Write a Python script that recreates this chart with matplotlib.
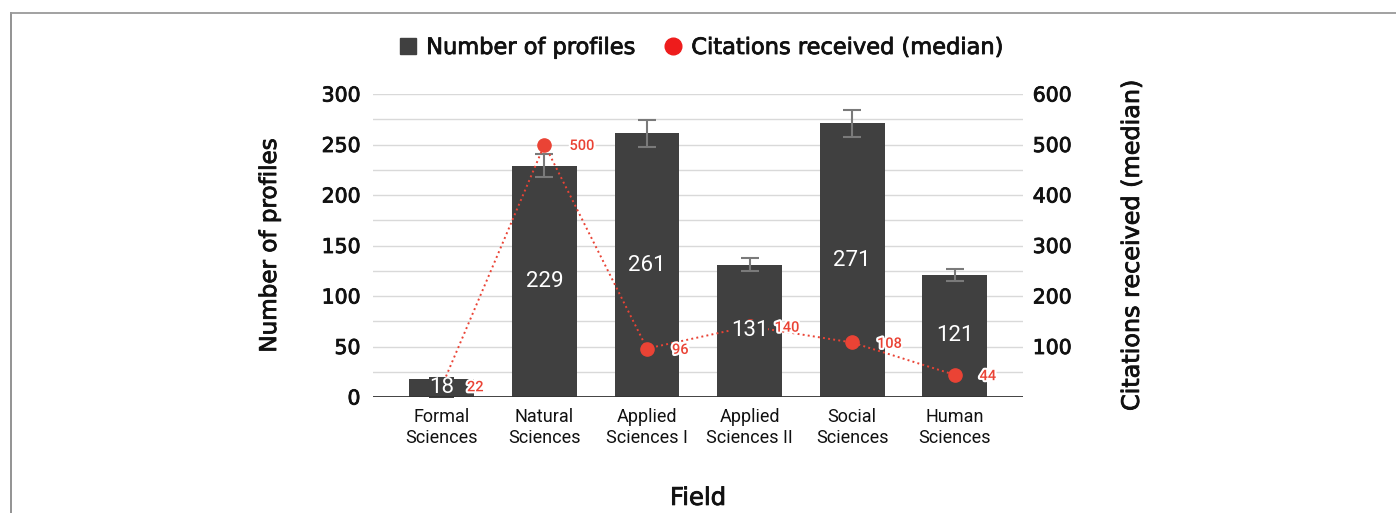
import matplotlib
matplotlib.use("Agg")
import matplotlib.pyplot as plt
import matplotlib.patheffects as pe
from matplotlib.lines import Line2D
import numpy as np

categories = ["Formal\nSciences", "Natural\nSciences", "Applied\nSciences I",
              "Applied\nSciences II", "Social\nSciences", "Human\nSciences"]
profiles = [18, 229, 261, 131, 271, 121]
profile_err = [1, 11.5, 13, 6.5, 13.5, 6]
citations = [22, 500, 96, 140, 108, 44]
left_ticks = [0, 50, 100, 150, 200, 250, 300]
right_ticks = [100, 200, 300, 400, 500, 600]

BAR = "#404040"
RED = "#ea4335"
TXT = "#111111"
THICK = [pe.withStroke(linewidth=0.6, foreground=TXT)]

W, H = 1396, 513
fig = plt.figure(figsize=(W / 100, H / 100), dpi=100)
ax = fig.add_axes([373 / W, 1 - 397 / H, 650 / W, 303 / H])
ax2 = ax.twinx()

x = np.arange(len(categories))
ax.set_xlim(-0.673, 5.668)
ax.set_ylim(0, 300)
ax2.set_ylim(0, 600)

# grid every 25
for v in np.arange(25, 301, 25):
    ax.axhline(v, color="#d9d9d9", lw=1.0, zorder=0)

ax.bar(x, profiles, width=0.634, color=BAR, zorder=2)
ax.errorbar(x, profiles, yerr=profile_err, fmt="none", ecolor="#7a7a7a",
            elinewidth=1.5, capsize=6.5, capthick=1.5, zorder=3)

ax2.set_zorder(ax.get_zorder() + 1)
ax2.patch.set_visible(False)
ax2.plot(x, citations, linestyle=":", color=RED, lw=1.4, zorder=4)
ax2.plot(x, citations, linestyle="none", marker="o", ms=9.5, color=RED, zorder=5)

# bar value labels at bar centres, with bar-coloured background
for xi, v in zip(x, profiles):
    ax2.annotate(str(v), xy=(xi, v / 2), xycoords=ax.transData,
                 ha="center", va="center", color="white", fontsize=16,
                 family="Roboto", zorder=6,
                 bbox=dict(boxstyle="square,pad=0.0", fc=BAR, ec="none"))

# citation labels
for xi, c in zip(x, citations):
    ax2.annotate(str(c), xy=(xi, c), xytext=(18, -1), textcoords="offset points",
                 ha="left", va="center", color=RED, fontsize=10.5,
                 family="Roboto", fontweight="medium", zorder=7,
                 path_effects=[pe.withStroke(linewidth=3, foreground="white")])

ax2.axhline(0, color="#333333", lw=1.3, zorder=8)

ax.set_xticks(x)
ax.set_xticklabels(categories, fontsize=13, family="Roboto", color=TXT,
                   linespacing=1.2)
ax.tick_params(axis="x", length=0, pad=8)
ax.set_yticks(left_ticks)
ax.set_yticklabels([str(t) for t in left_ticks], fontsize=14.7, color=TXT,
                   family="DejaVu Sans", path_effects=THICK)
ax.tick_params(axis="y", length=0, pad=9)
ax2.set_yticks(right_ticks)
ax2.set_yticklabels([str(t) for t in right_ticks], fontsize=14.7, color=TXT,
                    family="DejaVu Sans", path_effects=THICK)
ax2.tick_params(axis="y", length=0, pad=7)

for a in (ax, ax2):
    for s in a.spines.values():
        s.set_visible(False)

ax.set_ylabel("Number of profiles", fontsize=16.6, color=TXT, family="DejaVu Sans",
              path_effects=THICK)
ax.yaxis.set_label_coords(-0.1415, 0.5)
ax2.set_ylabel("Citations received (median)", fontsize=17.2, color=TXT,
               family="DejaVu Sans", rotation=90, path_effects=THICK)
ax2.yaxis.set_label_coords(1.149, 0.5)
ax.set_xlabel("Field", fontsize=17.5, color=TXT, family="DejaVu Sans",
              path_effects=THICK)
ax.xaxis.label.set_va("center")
ax.xaxis.set_label_coords(0.5, -0.333)

handles = [
    Line2D([], [], linestyle="none", marker="s", ms=12, color=BAR),
    Line2D([], [], linestyle="none", marker="o", ms=12, color="#ee1c1c"),
]
leg = fig.legend(handles, ["Number of profiles", "Citations received (median)"],
                 loc="center", bbox_to_anchor=(700 / W, 1 - 48 / H), ncol=2,
                 frameon=False, handletextpad=0.3, columnspacing=1.2,
                 handlelength=1.0, prop={"family": "DejaVu Sans", "size": 16.2})
for t in leg.get_texts():
    t.set_color(TXT)
    t.set_path_effects(THICK)

# outer frame lines (left and top)
fig.add_artist(Line2D([11 / W, 11 / W], [0, 1 - 13 / H], transform=fig.transFigure,
                      color="#8a8a8a", lw=1.3))
fig.add_artist(Line2D([11 / W, 1], [1 - 13 / H, 1 - 13 / H], transform=fig.transFigure,
                      color="#9a9a9a", lw=1.3))

fig.savefig("out.png", dpi=100, facecolor="white")
